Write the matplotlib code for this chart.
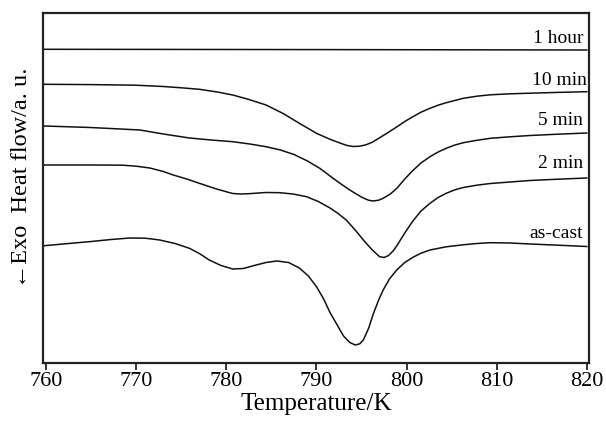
import matplotlib.pyplot as plt

plt.rcParams['font.family'] = ['Liberation Serif', 'DejaVu Serif']

# temperature (K) and heat flow (a.u.)
t_1hour = [759.8, 790.0, 820.0]
hf_1hour = [31.27, 31.24, 31.20]

t_10min = [759.8, 764.9, 769.9, 773.0, 775.0, 777.0, 779.0, 780.7, 782.5, 784.4,
           786.3, 788.1, 790.0, 791.5, 792.6, 793.4, 794.1, 794.8, 795.5, 796.2,
           797.0, 798.0, 798.9, 799.8, 800.7, 801.6, 802.6, 803.5, 804.4, 806.3,
           807.8, 809.3, 811.5, 813.7, 816.8, 820.0]
hf_10min = [27.77, 27.74, 27.68, 27.55, 27.42, 27.27, 27.00, 26.70, 26.25, 25.70,
            24.85, 23.87, 22.87, 22.27, 21.90, 21.65, 21.55, 21.58, 21.72, 21.98,
            22.42, 22.98, 23.50, 24.05, 24.53, 24.98, 25.37, 25.68, 25.93, 26.37,
            26.58, 26.72, 26.82, 26.88, 26.96, 27.03]

t_5min = [759.8, 764.9, 770.4, 773.0, 775.9, 778.3, 780.7, 782.6, 784.4, 786.0,
          787.5, 789.0, 790.4, 791.8, 792.8, 793.7, 794.5, 795.2, 795.8, 796.3,
          796.9, 797.4, 798.2, 798.9, 799.8, 800.7, 801.6, 802.6, 803.5, 804.4,
          805.3, 806.3, 807.8, 809.3, 811.5, 813.7, 816.8, 820.0]
hf_5min = [23.60, 23.45, 23.20, 22.80, 22.40, 22.20, 22.03, 21.80, 21.53, 21.20,
           20.75, 20.10, 19.35, 18.40, 17.75, 17.20, 16.75, 16.40, 16.17, 16.10,
           16.18, 16.37, 16.80, 17.35, 18.30, 19.15, 19.90, 20.53, 21.00, 21.37,
           21.68, 21.93, 22.17, 22.37, 22.52, 22.65, 22.78, 22.90]

t_2min = [759.8, 765.0, 768.5, 770.0, 771.5, 773.0, 774.1, 775.6, 777.0, 778.9,
          780.7, 781.6, 782.5, 784.4, 785.9, 787.4, 788.9, 790.2, 791.5, 792.4,
          793.3, 794.3, 795.2, 796.2, 797.0, 797.5, 798.0, 798.5, 798.9, 799.8,
          800.7, 801.6, 802.6, 803.5, 804.4, 805.3, 806.3, 807.8, 809.3, 811.5,
          813.7, 816.8, 820.0]
hf_2min = [19.70, 19.70, 19.68, 19.58, 19.40, 19.05, 18.70, 18.30, 17.87, 17.30,
           16.85, 16.80, 16.83, 16.95, 16.93, 16.80, 16.53, 16.05, 15.40, 14.85,
           14.20, 13.20, 12.20, 11.20, 10.53, 10.45, 10.65, 11.10, 11.60, 12.90,
           14.10, 15.10, 15.87, 16.45, 16.87, 17.20, 17.45, 17.68, 17.85, 18.00,
           18.15, 18.28, 18.40]

t_ascast = [759.8, 762.5, 765.0, 767.2, 769.3, 771.0, 772.6, 774.3, 775.9, 777.0,
            778.1, 779.4, 780.7, 781.9, 783.1, 784.4, 785.6, 786.9, 788.1, 789.1,
            790.0, 790.8, 791.5, 792.3, 793.0, 793.7, 794.3, 794.8, 795.2, 795.8,
            796.3, 796.9, 797.4, 798.1, 798.9, 799.8, 800.7, 801.6, 802.6, 804.4,
            806.3, 807.8, 809.3, 811.5, 813.7, 816.8, 820.0]
hf_ascast = [11.63, 11.85, 12.05, 12.25, 12.40, 12.38, 12.20, 11.85, 11.37, 10.85,
             10.20, 9.65, 9.30, 9.35, 9.65, 9.95, 10.10, 9.95, 9.40, 8.60,
             7.53, 6.30, 4.95, 3.70, 2.60, 1.95, 1.70, 1.82, 2.20, 3.40,
             4.80, 6.20, 7.20, 8.30, 9.20, 9.95, 10.47, 10.88, 11.20, 11.52,
             11.72, 11.85, 11.93, 11.90, 11.80, 11.68, 11.55]

xticks = [760, 770, 780, 790, 800, 810, 820]

fig = plt.figure(figsize=(6.06, 4.26), dpi=100)
ax = fig.add_axes([0.071, 0.1486, 0.901, 0.8209])

for t, hf in [(t_1hour, hf_1hour), (t_10min, hf_10min), (t_5min, hf_5min),
              (t_2min, hf_2min), (t_ascast, hf_ascast)]:
    ax.plot(t, hf, color="#111111", lw=1.1, solid_joinstyle="round")

ax.text(819.6, 31.9, "1 hour", ha="right", va="baseline", fontsize=14)
ax.text(820.0, 27.7, "10 min", ha="right", va="baseline", fontsize=14)
ax.text(819.6, 23.7, "5 min", ha="right", va="baseline", fontsize=14)
ax.text(819.6, 19.4, "2 min", ha="right", va="baseline", fontsize=14)
ax.text(819.6, 12.4, "as-cast", ha="right", va="baseline", fontsize=14)

ax.set_xlim(759.65, 820.25)
ax.set_ylim(-0.07, 34.9)
ax.set_xticks(xticks)
ax.set_yticks([])
ax.tick_params(axis="x", direction="out", length=5, width=1.3, pad=2,
               labelsize=16, color="#222222")
for s in ax.spines.values():
    s.set_linewidth(1.6)
    s.set_color("#222222")

ax.set_xlabel("Temperature/K", fontsize=18, labelpad=1)
ax.set_ylabel("\u2190Exo  Heat flow/a. u.", fontsize=17.5)
ax.yaxis.set_label_coords(-0.02, 0.53)

fig.savefig("out.png", dpi=100)
